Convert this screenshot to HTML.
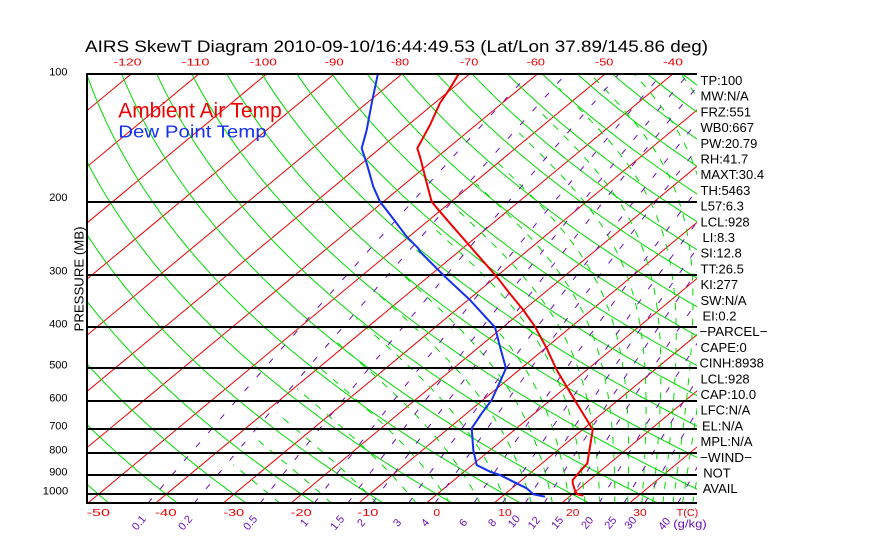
<!DOCTYPE html>
<html><head><meta charset="utf-8">
<style>
html,body{margin:0;padding:0;background:#fff;}
svg{display:block;}
text{font-family:"Liberation Sans",sans-serif;}
</style></head>
<body>
<svg id="s" width="870" height="560" viewBox="0 0 870 560" xmlns="http://www.w3.org/2000/svg">
<defs><clipPath id="c"><rect x="87" y="74" width="610" height="429.5"/></clipPath></defs>
<rect x="0" y="0" width="870" height="560" fill="#fff"/>
<g id="grid" clip-path="url(#c)"></g>

<!-- pressure lines -->
<g stroke="#000" stroke-width="2" fill="none">
<path d="M87,202H697M87,275H697M87,327H697M87,368H697M87,401H697M87,429H697M87,453H697M87,475H697M87,494H697"/>
<path d="M87,74H697M87,503H697M87,73V504"/>
</g>

<!-- sounding -->
<polyline fill="none" stroke="#f00000" stroke-width="2" stroke-linejoin="round" points="458.3,74.7 450,88.3 440,103 430,125 417.3,148.3 420,156.7 426.7,183 431.7,201.7 440,211.7 450,223.3 461.7,236.7 473.3,250 496.7,276.7 508.3,291.7 523.3,310 535,326.7 546.7,348.3 556.7,370 566.7,386.7 576.7,403.3 590,425 592.7,430 590,446.7 587.3,463.3 582.7,468.3 572.7,480 572.7,483 575,490.7 577.3,494.3 583.3,495.7"/>
<polyline fill="none" stroke="#1430f0" stroke-width="2" stroke-linejoin="round" points="377.7,74.7 371.7,103.3 366.7,130 361.7,148.3 366.7,163.3 373.3,186.7 380,201.7 391.7,216.7 406.7,236.7 418.3,248.3 420,251.7 445,276.7 470,300 486.7,318.3 495,327.3 500,346.7 506,368.3 500,381.7 491.7,400 481.7,413.3 471.7,428.3 473.3,450 476.7,465 490,471.7 500,475 513.3,481.7 526.7,488.3 533.3,494.3 545,496.7"/>

<!-- title -->
<text x="85" y="52" font-size="16.5" textLength="623" lengthAdjust="spacingAndGlyphs" fill="#000">AIRS SkewT Diagram 2010-09-10/16:44:49.53 (Lat/Lon 37.89/145.86 deg)</text>

<!-- legend -->
<text x="118.3" y="117.7" font-size="21" textLength="163.4" lengthAdjust="spacingAndGlyphs" fill="#f00000">Ambient Air Temp</text>
<text x="118.3" y="137.7" font-size="17.5" textLength="148.4" lengthAdjust="spacingAndGlyphs" fill="#1430f0">Dew Point Temp</text>

<!-- top temperature labels -->
<g fill="#f00000" font-size="10" text-anchor="middle">
<text x="127.5" y="65.5" textLength="28" lengthAdjust="spacingAndGlyphs">-120</text>
<text x="195.5" y="65.5" textLength="28" lengthAdjust="spacingAndGlyphs">-110</text>
<text x="263.3" y="65.5" textLength="27" lengthAdjust="spacingAndGlyphs">-100</text>
<text x="334.2" y="65.5" textLength="19" lengthAdjust="spacingAndGlyphs">-90</text>
<text x="400" y="65.5" textLength="18" lengthAdjust="spacingAndGlyphs">-80</text>
<text x="469.2" y="65.5" textLength="18.3" lengthAdjust="spacingAndGlyphs">-70</text>
<text x="535.8" y="65.5" textLength="18.3" lengthAdjust="spacingAndGlyphs">-60</text>
<text x="604.2" y="65.5" textLength="18.3" lengthAdjust="spacingAndGlyphs">-50</text>
<text x="673" y="65.5" textLength="20" lengthAdjust="spacingAndGlyphs">-40</text>
</g>

<!-- bottom temperature labels -->
<g fill="#f00000" font-size="10.5" text-anchor="middle">
<text x="98.3" y="516" textLength="23.3" lengthAdjust="spacingAndGlyphs">-50</text>
<text x="165.8" y="516" textLength="21.7" lengthAdjust="spacingAndGlyphs">-40</text>
<text x="233.7" y="516" textLength="20.7" lengthAdjust="spacingAndGlyphs">-30</text>
<text x="301.2" y="516" textLength="21" lengthAdjust="spacingAndGlyphs">-20</text>
<text x="367.8" y="516" textLength="21" lengthAdjust="spacingAndGlyphs">-10</text>
<text x="436.7" y="516" textLength="6.7" lengthAdjust="spacingAndGlyphs">0</text>
<text x="505" y="516" textLength="13.4" lengthAdjust="spacingAndGlyphs">10</text>
<text x="572.7" y="516" textLength="13.3" lengthAdjust="spacingAndGlyphs">20</text>
<text x="640" y="516" textLength="13.4" lengthAdjust="spacingAndGlyphs">30</text>
<text x="687.5" y="516" textLength="21.6" lengthAdjust="spacingAndGlyphs">T(C)</text>
</g>

<!-- pressure labels -->
<g fill="#000" font-size="11" text-anchor="end">
<text x="67.5" y="75.5" textLength="18.3" lengthAdjust="spacingAndGlyphs">100</text>
<text x="67.5" y="201" textLength="18.3" lengthAdjust="spacingAndGlyphs">200</text>
<text x="67.5" y="274.5" textLength="18.3" lengthAdjust="spacingAndGlyphs">300</text>
<text x="67.5" y="327.5" textLength="18.3" lengthAdjust="spacingAndGlyphs">400</text>
<text x="67.5" y="368.5" textLength="18.3" lengthAdjust="spacingAndGlyphs">500</text>
<text x="67.5" y="401.5" textLength="18.3" lengthAdjust="spacingAndGlyphs">600</text>
<text x="67.5" y="429.5" textLength="18.3" lengthAdjust="spacingAndGlyphs">700</text>
<text x="67.5" y="453.5" textLength="18.3" lengthAdjust="spacingAndGlyphs">800</text>
<text x="67.5" y="475.5" textLength="18.3" lengthAdjust="spacingAndGlyphs">900</text>
<text x="68.3" y="494.5" textLength="25.6" lengthAdjust="spacingAndGlyphs">1000</text>
</g>
<text transform="translate(83.3,279) rotate(-90)" text-anchor="middle" font-size="13" textLength="105" lengthAdjust="spacingAndGlyphs" fill="#000">PRESSURE (MB)</text>

<!-- mixing ratio labels -->
<g fill="#6a10b8" font-size="11" text-anchor="middle">
<text transform="translate(141.7,525) rotate(-50)">0.1</text>
<text transform="translate(188,525) rotate(-50)">0.2</text>
<text transform="translate(253,525) rotate(-50)">0.5</text>
<text transform="translate(307,525) rotate(-50)">1</text>
<text transform="translate(340,525) rotate(-50)">1.5</text>
<text transform="translate(364,525) rotate(-50)">2</text>
<text transform="translate(400,525) rotate(-50)">3</text>
<text transform="translate(428,525) rotate(-50)">4</text>
<text transform="translate(466,525) rotate(-50)">6</text>
<text transform="translate(495,525) rotate(-50)">8</text>
<text transform="translate(516.7,523.5) rotate(-50)">10</text>
<text transform="translate(536.7,525) rotate(-50)">12</text>
<text transform="translate(560,525) rotate(-50)">15</text>
<text transform="translate(590,525) rotate(-50)">20</text>
<text transform="translate(613.3,525) rotate(-50)">25</text>
<text transform="translate(633.3,525) rotate(-50)">30</text>
<text transform="translate(667,526) rotate(-50)">40</text>
</g>
<text x="673.3" y="527.5" font-size="11" textLength="33.4" lengthAdjust="spacingAndGlyphs" fill="#6a10b8">(g/kg)</text>

<!-- right panel -->
<g fill="#000" font-size="13">
<text x="700.5" y="85">TP:100</text>
<text x="700.5" y="100.7">MW:N/A</text>
<text x="700.5" y="116.4">FRZ:551</text>
<text x="700.5" y="132.1">WB0:667</text>
<text x="700.5" y="147.8">PW:20.79</text>
<text x="700.5" y="163.5">RH:41.7</text>
<text x="700.5" y="179.2">MAXT:30.4</text>
<text x="700.5" y="194.9">TH:5463</text>
<text x="700.5" y="210.6">L57:6.3</text>
<text x="700.5" y="226.3">LCL:928</text>
<text x="702.5" y="242">LI:8.3</text>
<text x="700.5" y="257.7">SI:12.8</text>
<text x="700.5" y="273.4">TT:26.5</text>
<text x="700.5" y="289.1">KI:277</text>
<text x="700.5" y="304.8">SW:N/A</text>
<text x="702.5" y="320.5">EI:0.2</text>
<text x="699.5" y="336.2" textLength="68" lengthAdjust="spacingAndGlyphs">−PARCEL−</text>
<text x="700.5" y="351.9">CAPE:0</text>
<text x="699.5" y="367.6">CINH:8938</text>
<text x="700.5" y="383.3">LCL:928</text>
<text x="700.5" y="399">CAP:10.0</text>
<text x="700.5" y="414.7">LFC:N/A</text>
<text x="702" y="430.4">EL:N/A</text>
<text x="700.5" y="446.1">MPL:N/A</text>
<text x="700" y="461.8" textLength="52" lengthAdjust="spacingAndGlyphs">−WIND−</text>
<text x="703.3" y="477.5">NOT</text>
<text x="702.7" y="493.2">AVAIL</text>
</g>
</svg>
<script>
(function(){
var NS="http://www.w3.org/2000/svg";
var g=document.getElementById('grid');
function Y(p){return 74.3+182.4*Math.log(p/100);}
function X(T,p){return 437+6.77*T+1.205*(494.3-Y(p));}
function add(d,stroke,w,dash){if(!d)return;var e=document.createElementNS(NS,'path');e.setAttribute('d',d);e.setAttribute('fill','none');e.setAttribute('stroke',stroke);e.setAttribute('stroke-width',w);if(dash)e.setAttribute('stroke-dasharray',dash);g.appendChild(e);}
function pt(T,p){return X(T,p).toFixed(1)+','+Y(p).toFixed(1);}
// isotherms
for(var T=-150;T<=60;T+=10){add('M'+pt(T,1070)+'L'+pt(T,90),'#f00000',1);}
// dry adiabats
for(var th=-60;th<=230;th+=10){var d='';for(var p=1070;p>=90;p-=5){var t=(th+273.15)*Math.pow(p/1000,0.2857)-273.15;d+=(d?'L':'M')+pt(t,p);}add(d,'#00dc00',1);}
// moist adiabats
function es(T){return 6.112*Math.exp(17.67*T/(T+243.5));}
function rs(T,p){var e=es(T);return 0.622*e/(p-e);}
function lr(T,p){var Tk=T+273.15,r=rs(T,p);return (287.04*Tk+2.501e6*r)/(1005.7+2.501e6*2.501e6*r*0.622/(287.04*Tk*Tk))/p;}
var starts=[-21.5,-13.9,-7.2,-1.4,3.6,8.0,11.9,15.6,18.7,21.2,23.5,25.7,27.9,29.8,31.9,33.5,35,36.5,37.9,39.4,41];
for(var i=0;i<starts.length;i++){var t=starts[i],p=1052,d='',on=false;
  while(p>95){var r=rs(t,p);if(r>0.00022){d+=(on?'L':'M')+pt(t,p);on=true;}else on=false;
    var dp=-2,k1=lr(t,p),k2=lr(t+k1*dp,p+dp);t+=0.5*(k1+k2)*dp;p+=dp;}
  add(d,'#00dc00',1,'7 8');}
// mixing ratio lines
var ws=[0.1,0.2,0.5,1,1.5,2,3,4,6,8,10,12,15,20,25,30,40];
for(var j=0;j<ws.length;j++){var w=ws[j]/1000,d='';for(var p=1050;p>=95;p-=10){var e=w*p/(0.622+w),L=Math.log(e/6.112),t=243.5*L/(17.67-L);d+=(d?'L':'M')+pt(t,p);}add(d,'#6a10b8',1,'6 12.5');}
})();
</script>
</body></html>
